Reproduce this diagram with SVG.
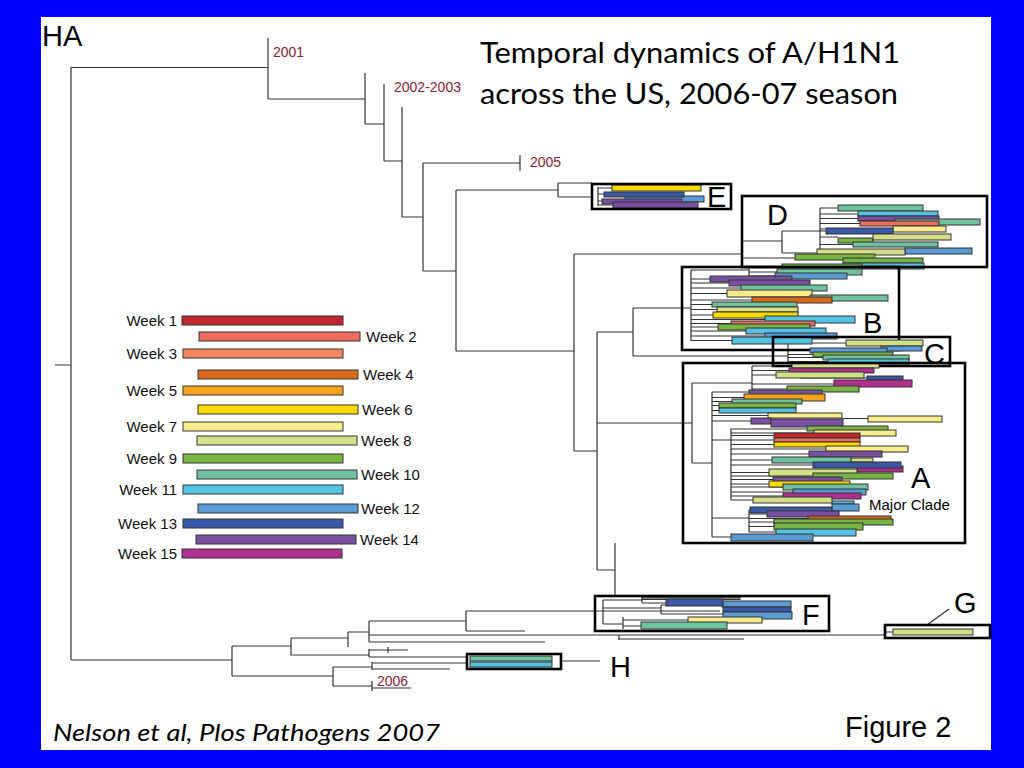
<svg xmlns="http://www.w3.org/2000/svg" width="1024" height="768" viewBox="0 0 1024 768">
<style>
.br{stroke:#333;stroke-width:1.2;fill:none}
.bx{fill:none;stroke:#000;stroke-width:2.6}
.b rect, rect.b{stroke:#333;stroke-width:1}
.w1{fill:#C1272D}.w2{fill:#F26C5F}.w3{fill:#F8875F}.w4{fill:#D9691A}.w5{fill:#F7A31C}
.w6{fill:#FFDA00}.w7{fill:#F8EC8C}.w8{fill:#D5DF86}.w9{fill:#79B543}.w10{fill:#6FC49F}
.w11{fill:#54C2E3}.w12{fill:#5B9BD5}.w13{fill:#3A58A8}.w14{fill:#7950A0}.w15{fill:#B12F8F}
.yr{font-family:"Liberation Sans",Arial,sans-serif;font-size:14px;fill:#8B2332}
.wk{font-family:"Liberation Sans",Arial,sans-serif;font-size:15px;fill:#111}
.lb{font-family:"Liberation Sans",Arial,sans-serif;font-size:29px;fill:#000}
</style>
<rect x="0" y="0" width="1024" height="768" fill="#0000FE"/>
<rect x="41" y="17" width="950" height="733" fill="#FFFFFF"/>

<text x="42" y="46" class="lb">HA</text>
<g id="title" font-family="Lato,'Open Sans',sans-serif" font-size="28" fill="#000">
<text x="480" y="63" textLength="420" lengthAdjust="spacingAndGlyphs">Temporal dynamics of A/H1N1</text>
<text x="480" y="104" textLength="418" lengthAdjust="spacingAndGlyphs">across the US, 2006-07 season</text>
</g>

<g id="connectors" class="br">
<path d="M55 365H71M71 67V660"/>
<path d="M71 67.5H268M268 38V99M268 99H365M365 73V124M365 124H384M384 84V161M384 161H402M402 107V217M402 217H423M423 163V271"/>
<path d="M423 163H520M520 155V171"/>
<path d="M423 271H456M456 190V351M456 190H558M558 183V197M558 183H592M558 197H592"/>
<path d="M456 351H574M574 254V451M574 254H742M574 451H597M597 332V570M597 332H633M633 308V356M633 308H691M633 356H788M597 423H692M597 570H615M615 543V596"/>
<path d="M71 660H232M232 646V676M232 646H291M291 638V655M291 638H348M348 632V647M348 632H369M369 621V642M369 621H466M466 611V631M466 611H720M466 631H525"/>
<path d="M369 635H885M369 642H545M619 635V640M619 639H744"/>
<path d="M291 655H369M369 649V657M369 650H408M388 647V653M369 657H467M561 661H600"/>
<path d="M232 676H333M333 667V686M333 667H372M372 662V670M372 663H467M372 669H450M333 686H372M372 681V691M372 688H411"/>
<path d="M598 187V206M598 188H612M598 194H604M598 201H602M598 205H613"/>
<path d="M742 241H782M782 231V253M782 231H820M820 208V250M820 208H838M820 214H858M820 218.5H858M820 223.5H860M820 229H893M820 231H826M820 237H838M820 244.5H853M820 250H817M782 253H817M742 258H795"/>
<path d="M691 270V341M691 270H749M749 266V276M749 266.5H782M749 272H777M749 276H775"/>
<path d="M691 279H710M691 283H729M691 288H741M691 293.5H727M691 300H752M691 304.5H712M691 309.5H717M691 315H713M691 319.5H765M691 323.5H731M691 327H718M691 331H746M691 336H765M691 340.5H732"/>
<path d="M788 343V362M788 343H846M788 350.5H810M788 354.5H813M788 357.5H823M788 361.5H828M850 348.5H881"/>
<path d="M692 383V463M692 383H752M752 366V392M752 366H792M752 370.5H789M752 375H776M752 384H834M800 378H867M752 389H787"/>
<path d="M692 463H712M712 392V537M712 392H749M712 397.5H744M712 401.5H732M712 405.5H719M712 410.5H719M712 415.5H768M712 421H751M843 418.5H868"/>
<path d="M712 440H731M731 429V500M731 429H807M731 433H814M731 435.5H774M731 440H774M731 444.5H774M731 449H826M731 454H809M731 460H772M731 465H813M731 472.5H769M731 476H813M731 479.5H773M731 484H769M731 487H783M731 492H793M731 496H783M731 500H753"/>
<path d="M712 518H749M749 510V532M749 510H750M749 514H767M749 518.5H808M749 522H774M749 526.5H774M749 532H776M712 537H731"/>
<path d="M603 600V624M603 600H642M642 597V603M642 603H666M603 608H661M661 605V614M661 605H722M661 614H723M603 624H623M623 617V629M623 620H688M623 626H641"/>
<path d="M885 632H893M927 625L949 609"/>
</g>

<g id="year-labels">
<text x="273" y="57" class="yr">2001</text>
<text x="394" y="92" class="yr">2002-2003</text>
<text x="530" y="167" class="yr">2005</text>
<text x="377" y="686" class="yr">2006</text>
</g>

<g id="legend" class="b">
<rect x="182" y="316" width="161" height="9" class="w1"/>
<rect x="199" y="332" width="161" height="9" class="w2"/>
<rect x="183" y="349" width="160" height="9" class="w3"/>
<rect x="198" y="370" width="160" height="9" class="w4"/>
<rect x="183" y="386" width="160" height="9" class="w5"/>
<rect x="198" y="405" width="160" height="9" class="w6"/>
<rect x="183" y="422" width="160" height="9" class="w7"/>
<rect x="197" y="436" width="160" height="9" class="w8"/>
<rect x="183" y="454" width="160" height="9" class="w9"/>
<rect x="197" y="470" width="160" height="9" class="w10"/>
<rect x="183" y="485" width="160" height="9" class="w11"/>
<rect x="198" y="504" width="160" height="9" class="w12"/>
<rect x="183" y="519" width="160" height="9" class="w13"/>
<rect x="196" y="535" width="160" height="9" class="w14"/>
<rect x="182" y="549" width="160" height="9" class="w15"/>
</g>
<g id="legend-labels" class="wk">
<text x="177" y="326" text-anchor="end">Week 1</text>
<text x="366" y="342">Week 2</text>
<text x="177" y="359" text-anchor="end">Week 3</text>
<text x="363" y="380">Week 4</text>
<text x="177" y="396" text-anchor="end">Week 5</text>
<text x="362" y="415">Week 6</text>
<text x="177" y="432" text-anchor="end">Week 7</text>
<text x="361" y="446">Week 8</text>
<text x="177" y="464" text-anchor="end">Week 9</text>
<text x="361" y="480">Week 10</text>
<text x="177" y="495" text-anchor="end">Week 11</text>
<text x="361" y="514">Week 12</text>
<text x="177" y="529" text-anchor="end">Week 13</text>
<text x="360" y="545">Week 14</text>
<text x="177" y="559" text-anchor="end">Week 15</text>
</g>

<g id="clade-E">
<g class="b">
<rect x="612" y="185" width="89" height="6" class="w6"/>
<rect x="625" y="196" width="79" height="6" class="w12"/>
<rect x="604" y="192" width="80" height="5" class="w13"/>
<rect x="602" y="199" width="80" height="5" class="w14"/>
<rect x="613" y="202" width="85" height="6" class="w14"/>
</g>
<rect x="592" y="184" width="139" height="25" class="bx"/>
<text x="707" y="207" class="lb">E</text>
</g>

<g id="clade-D">
<g class="b">
<rect x="838" y="205" width="85" height="6" class="w10"/>
<rect x="858" y="211" width="80" height="5" class="w11"/>
<rect x="858" y="216" width="81" height="5" class="w14"/>
<rect x="895" y="219" width="85" height="6" class="w10"/>
<rect x="860" y="221" width="79" height="5" class="w2"/>
<rect x="893" y="226" width="53" height="6" class="w7"/>
<rect x="826" y="228" width="67" height="6" class="w13"/>
<rect x="838" y="238" width="35" height="5" class="w9"/>
<rect x="873" y="234" width="78" height="6" class="w8"/>
<rect x="853" y="242" width="85" height="5" class="w10"/>
<rect x="905" y="248" width="67" height="6" class="w12"/>
<rect x="817" y="249" width="88" height="6" class="w8"/>
<rect x="795" y="254" width="80" height="6" class="w9"/>
<rect x="843" y="258" width="80" height="5" class="w9"/>
<rect x="843" y="263" width="81" height="6" class="w11"/>
</g>
<rect x="742" y="196" width="245" height="71" class="bx"/>
<text x="767" y="225" class="lb">D</text>
</g>

<g id="clade-B">
<g class="b">
<rect x="782" y="264" width="80" height="5" class="w9"/>
<rect x="777" y="269" width="85" height="6" class="w10"/>
<rect x="775" y="273" width="72" height="6" class="w12"/>
<rect x="710" y="276" width="82" height="6" class="w14"/>
<rect x="729" y="280" width="81" height="6" class="w14"/>
<rect x="741" y="285" width="86" height="6" class="w10"/>
<rect x="727" y="290" width="85" height="7" class="w7"/>
<rect x="810" y="295" width="78" height="6" class="w10"/>
<rect x="752" y="297" width="80" height="6" class="w4"/>
<rect x="712" y="302" width="85" height="5" class="w10"/>
<rect x="717" y="307" width="81" height="5" class="w8"/>
<rect x="713" y="312" width="85" height="6" class="w6"/>
<rect x="765" y="316" width="90" height="7" class="w11"/>
<rect x="731" y="321" width="84" height="5" class="w2"/>
<rect x="718" y="324" width="92" height="6" class="w9"/>
<rect x="746" y="328" width="80" height="6" class="w11"/>
<rect x="765" y="333" width="72" height="6" class="w12"/>
<rect x="732" y="337" width="80" height="7" class="w11"/>
</g>
<rect x="682" y="267" width="217" height="83" class="bx"/>
<text x="863" y="333" class="lb">B</text>
</g>

<g id="clade-C">
<g class="b">
<rect x="846" y="340" width="77" height="6" class="w8"/>
<rect x="881" y="346" width="41" height="5" class="w12"/>
<rect x="810" y="348" width="77" height="5" class="w12"/>
<rect x="813" y="352" width="80" height="5" class="w9"/>
<rect x="823" y="355" width="86" height="5" class="w10"/>
<rect x="828" y="359" width="81" height="5" class="w11"/>
</g>
<rect x="773" y="337" width="177" height="29" class="bx"/>
<text x="924" y="364" class="lb" font-size="31">C</text>
</g>

<g id="clade-A">
<g class="b">
<rect x="792" y="363" width="87" height="5" class="w8"/>
<rect x="789" y="368" width="85" height="5" class="w15"/>
<rect x="776" y="372" width="88" height="6" class="w8"/>
<rect x="867" y="376" width="36" height="4" class="w13"/>
<rect x="834" y="380" width="78" height="7" class="w15"/>
<rect x="787" y="386" width="72" height="6" class="w9"/>
<rect x="749" y="390" width="73" height="5" class="w14"/>
<rect x="744" y="394" width="81" height="7" class="w5"/>
<rect x="732" y="399" width="70" height="5" class="w10"/>
<rect x="719" y="403" width="77" height="5" class="w9"/>
<rect x="719" y="408" width="77" height="5" class="w11"/>
<rect x="768" y="413" width="74" height="5" class="w7"/>
<rect x="868" y="416" width="74" height="6" class="w7"/>
<rect x="751" y="418" width="20" height="6" class="w14"/>
<rect x="771" y="419" width="72" height="8" class="w14"/>
<rect x="807" y="426" width="81" height="5" class="w9"/>
<rect x="814" y="430" width="82" height="6" class="w7"/>
<rect x="774" y="433" width="86" height="5" class="w1"/>
<rect x="774" y="438" width="86" height="4" class="w2"/>
<rect x="774" y="442" width="86" height="5" class="w6"/>
<rect x="826" y="446" width="82" height="6" class="w7"/>
<rect x="809" y="451" width="73" height="6" class="w14"/>
<rect x="851" y="458" width="22" height="4" class="w8"/>
<rect x="772" y="457" width="79" height="6" class="w10"/>
<rect x="857" y="466" width="46" height="6" class="w15"/>
<rect x="813" y="462" width="88" height="6" class="w13"/>
<rect x="769" y="469" width="88" height="7" class="w8"/>
<rect x="813" y="473" width="80" height="6" class="w9"/>
<rect x="773" y="477" width="69" height="5" class="w14"/>
<rect x="769" y="481" width="81" height="6" class="w6"/>
<rect x="783" y="484" width="85" height="6" class="w10"/>
<rect x="793" y="489" width="73" height="6" class="w12"/>
<rect x="783" y="493" width="78" height="6" class="w15"/>
<rect x="832" y="501" width="22" height="3" class="w11"/>
<rect x="832" y="504" width="27" height="7" class="w12"/>
<rect x="753" y="497" width="79" height="6" class="w8"/>
<rect x="750" y="507" width="82" height="6" class="w13"/>
<rect x="767" y="511" width="72" height="6" class="w14"/>
<rect x="808" y="516" width="83" height="5" class="w4"/>
<rect x="774" y="519" width="119" height="6" class="w9"/>
<rect x="774" y="523" width="89" height="7" class="w9"/>
<rect x="776" y="529" width="80" height="7" class="w11"/>
<rect x="731" y="534" width="82" height="7" class="w12"/>
</g>
<rect x="683" y="363" width="282" height="180" class="bx"/>
<text x="911" y="488" class="lb">A</text>
<text x="869" y="510" font-family="'Liberation Sans',Arial,sans-serif" font-size="15" fill="#000">Major Clade</text>
</g>

<g id="clade-F">
<g class="b">
<rect x="642" y="597" width="98" height="2.5" fill="#888"/>
<rect x="722" y="601" width="69" height="6" class="w12"/>
<rect x="666" y="599" width="57" height="7" class="w13"/>
<rect x="723" y="607" width="68" height="5" class="w13"/>
<rect x="723" y="612" width="69" height="7" class="w12"/>
<rect x="688" y="617" width="74" height="6" class="w7"/>
<rect x="641" y="622" width="86" height="7" class="w10"/>
</g>
<rect x="595" y="596" width="234" height="35" class="bx"/>
<text x="802" y="625" class="lb">F</text>
</g>

<g id="clade-G">
<rect x="893" y="629" width="80" height="6" class="w8 b"/>
<rect x="885" y="625" width="105" height="13" class="bx"/>
<text x="954" y="613" class="lb">G</text>
</g>

<g id="clade-H">
<rect x="470" y="656" width="82" height="5" class="w10 b"/>
<rect x="470" y="662" width="82" height="5" class="w11 b"/>
<rect x="467" y="654" width="94" height="15" class="bx"/>
<text x="610" y="677" class="lb">H</text>
</g>

<text x="53" y="741" font-family="Lato,'Open Sans',sans-serif" font-style="italic" font-size="24" fill="#000" textLength="387" lengthAdjust="spacingAndGlyphs">Nelson et al, Plos Pathogens 2007</text>
<text x="845" y="737" font-family="'Liberation Sans',Arial,sans-serif" font-size="29" fill="#000">Figure 2</text>
</svg>
